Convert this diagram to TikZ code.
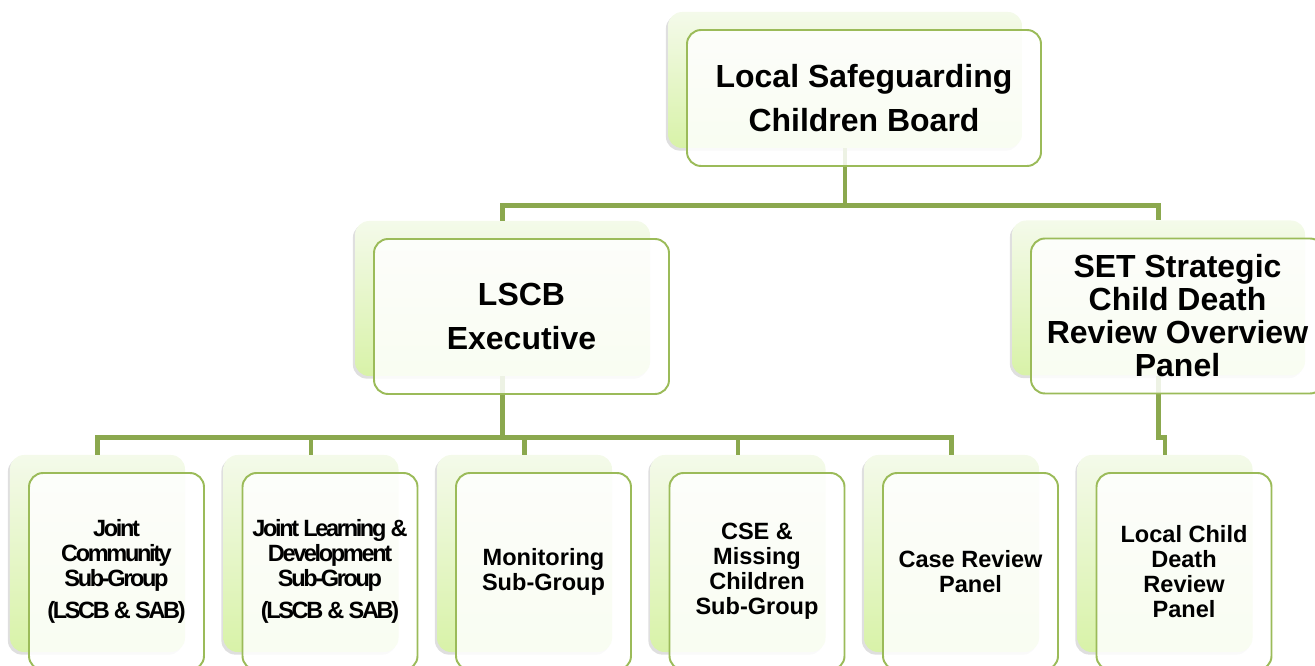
\documentclass[tikz,border=0pt]{standalone}
\usepackage{fontspec}
\setmainfont{Liberation Sans}
\usepackage{tikz}
\usetikzlibrary{positioning,shadows}
\definecolor{boxedge}{HTML}{9BBB59}
\definecolor{backtop}{HTML}{F4FAEA}
\definecolor{backbot}{HTML}{D8F2A8}
\definecolor{linkgreen}{HTML}{8BA84E}
\tikzset{
    on grid,
    node distance=4.27cm,
    back/.style = {
        shape=rectangle,
        rounded corners=8pt,
        top color=backtop,
        bottom color=backbot,
        drop shadow={shadow xshift=-1.2pt, shadow yshift=-1.5pt, opacity=0.25},
        inner sep=0pt
    },
    front/.style = {
        draw=boxedge,
        shape=rectangle,
        rounded corners=8pt,
        line width=1.1pt,
        fill=white,
        fill opacity=0.85,
        text opacity=1,
        align=center,
        inner sep=0pt
    },
    small/.style = {
        minimum width=3.5cm,
        minimum height=3.94cm
    },
    bigtext/.style = {
        font=\fontsize{18.2}{24.6}\selectfont\bfseries
    },
    smalltext/.style = {
        font=\fontsize{13.4}{14.2}\selectfont\bfseries
    },
    tighttext/.style = {
        font=\fontsize{13.4}{14.2}\selectfont\bfseries\addfontfeatures{LetterSpace=-10}
    },
    link/.style = {
        draw=linkgreen,
        line width=2.7pt
    }
}

\begin{document}
\begin{tikzpicture}
        \useasboundingbox (0,0) rectangle (26.3,-13.32);

        \node[back, minimum width=7.08cm, minimum height=2.72cm] (board-back) at (16.9,-1.6) {};
        \node[back, minimum width=5.9cm, minimum height=3.1cm, below left=4.37cm and 6.85cm of board-back] (exec-back) {};
        \node[back, minimum width=5.86cm, minimum height=3.1cm, below right=4.36cm and 6.27cm of board-back] (set-back) {};

        \node[back, small, below left=5.1cm and 8.1cm of exec-back] (jointcom-back) {};
        \node[back, small, right of=jointcom-back] (jointld-back) {};
        \node[back, small, right of=jointld-back] (monitor-back) {};
        \node[back, small, right of=monitor-back] (cse-back) {};
        \node[back, small, right of=cse-back] (casereview-back) {};
        \node[back, small, right of=casereview-back] (lcdr-back) {};

        \coordinate[below=1.14cm of board-back.south] (bus0);
        \coordinate[below=1.22cm of exec-back.south] (bus1);
        \coordinate[below=1.23cm of set-back.south] (bus2);

        \path[draw, link] (board-back.south) |- (bus0) -| (exec-back.north);
        \path[draw, link] (board-back.south) |- (bus0) -| (set-back.north);

        \path[draw, link] (exec-back.south) |- (bus1) -| (jointcom-back.north);
        \path[draw, link] (exec-back.south) |- (bus1) -| (jointld-back.north);
        \path[draw, link] (exec-back.south) |- (bus1) -| (monitor-back.north);
        \path[draw, link] (exec-back.south) |- (bus1) -| (cse-back.north);
        \path[draw, link] (exec-back.south) |- (bus1) -| (casereview-back.north);

        \path[draw, link] (set-back.south) |- (bus2) -| (lcdr-back.north);

        \node[front, bigtext, minimum width=7.08cm, minimum height=2.72cm, below right=0.36cm and 0.38cm of board-back] (board) {Local Safeguarding\\Children Board};
        \node[front, bigtext, minimum width=5.9cm, minimum height=3.1cm, below right=0.36cm and 0.38cm of exec-back] (exec) {LSCB\\Executive};
        \node[front, font=\fontsize{18.2}{18.8}\selectfont\bfseries, minimum width=5.86cm, minimum height=3.1cm, below right=0.36cm and 0.38cm of set-back] (set) {SET Strategic\\Child Death\\Review Overview\\Panel};

        \node[front, small, tighttext, below right=0.36cm and 0.38cm of jointcom-back] (jointcom) {Joint\\Community\\Sub-Group\\[4pt](LSCB \& SAB)};
        \node[front, small, tighttext, below right=0.36cm and 0.38cm of jointld-back] (jointld) {Joint Learning \&\\Development\\Sub-Group\\[4pt](LSCB \& SAB)};
        \node[front, small, smalltext, below right=0.36cm and 0.38cm of monitor-back] (monitor) {Monitoring\\Sub-Group};
        \node[front, small, smalltext, below right=0.36cm and 0.38cm of cse-back] (cse) {CSE \&\\Missing\\Children\\Sub-Group};
        \node[front, small, smalltext, below right=0.36cm and 0.38cm of casereview-back] (casereview) {Case Review\\Panel};
        \node[front, small, smalltext, below right=0.36cm and 0.38cm of lcdr-back] (lcdr) {Local Child\\Death\\Review\\Panel};

    \end{tikzpicture}
\end{document}
